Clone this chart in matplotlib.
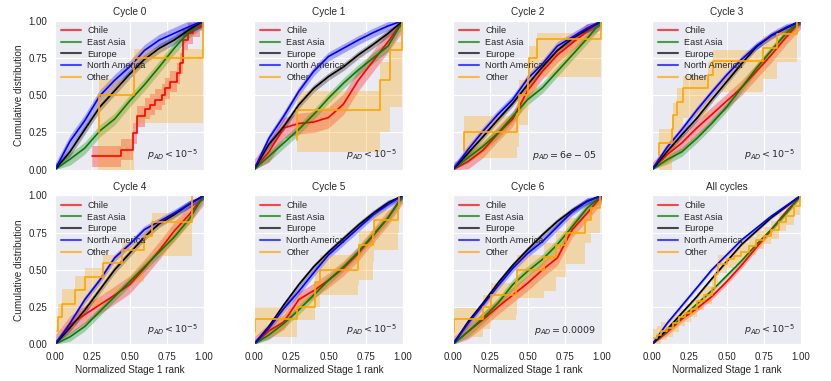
import matplotlib
matplotlib.use('Agg')
import matplotlib.pyplot as plt
from matplotlib.lines import Line2D
import seaborn as sns
import numpy as np

sns.set_style('darkgrid')
plt.rcParams['font.family'] = ['Liberation Sans', 'DejaVu Sans']

titles = ['Cycle 0', 'Cycle 1', 'Cycle 2', 'Cycle 3',
          'Cycle 4', 'Cycle 5', 'Cycle 6', 'All cycles']
p_labels = [r'$p_{AD} < 10^{-5}$', r'$p_{AD} < 10^{-5}$', r'$p_{AD} = 6e-05$',
            r'$p_{AD} < 10^{-5}$', r'$p_{AD} < 10^{-5}$', r'$p_{AD} < 10^{-5}$',
            r'$p_{AD} = 0.0009$', r'$p_{AD} < 10^{-5}$']
regions = ['Chile', 'East Asia', 'Europe', 'North America', 'Other']
colors = ['red', 'green', 'black', 'blue', 'orange']

# big groups: cumulative share read at these ranks, one row per panel
grid = [0.0, 0.1, 0.2, 0.3, 0.4, 0.5, 0.6, 0.7, 0.8, 0.9, 1.0]

chile = [
    None,  # cycle 0 has few points, see chile_c0_x / chile_c0_y
    [0, 0.12, 0.28, 0.31, 0.32, 0.35, 0.44, 0.60, 0.73, 0.86, 1.0],
    [0, 0.055, 0.13, 0.24, 0.34, 0.53, 0.66, 0.77, 0.85, 0.93, 1.0],
    [0, 0.10, 0.18, 0.28, 0.37, 0.46, 0.55, 0.66, 0.77, 0.89, 1.0],
    [0, 0.13, 0.20, 0.265, 0.33, 0.40, 0.51, 0.63, 0.76, 0.87, 1.0],
    [0, 0.09, 0.15, 0.30, 0.36, 0.43, 0.51, 0.61, 0.73, 0.85, 1.0],
    [0, 0.085, 0.165, 0.25, 0.33, 0.41, 0.50, 0.58, 0.77, 0.88, 1.0],
    [0, 0.08, 0.17, 0.24, 0.32, 0.42, 0.53, 0.65, 0.77, 0.89, 1.0],
]
chile_c0_x = [0.25, 0.44, 0.525, 0.552, 0.603, 0.638, 0.671, 0.716,
              0.739, 0.772, 0.817, 0.839, 0.861, 0.895, 0.929, 0.973]
chile_c0_y = [0.09, 0.135, 0.245, 0.357, 0.41, 0.435, 0.469, 0.502,
              0.547, 0.59, 0.647, 0.714, 0.87, 0.915, 0.96, 1.0]

east_asia = [
    [0, 0.07, 0.145, 0.26, 0.34, 0.46, 0.57, 0.69, 0.815, 0.925, 1.0],
    [0, 0.09, 0.18, 0.27, 0.37, 0.48, 0.58, 0.67, 0.75, 0.83, 1.0],
    [0, 0.08, 0.156, 0.245, 0.357, 0.47, 0.55, 0.66, 0.77, 0.88, 1.0],
    [0, 0.067, 0.12, 0.21, 0.31, 0.42, 0.55, 0.68, 0.80, 0.915, 1.0],
    [0, 0.05, 0.12, 0.22, 0.32, 0.42, 0.52, 0.62, 0.72, 0.84, 1.0],
    [0, 0.063, 0.14, 0.23, 0.33, 0.43, 0.52, 0.62, 0.735, 0.85, 1.0],
    [0, 0.085, 0.175, 0.275, 0.40, 0.49, 0.57, 0.67, 0.79, 0.915, 1.0],
    [0, 0.09, 0.18, 0.27, 0.36, 0.46, 0.56, 0.67, 0.77, 0.88, 1.0],
]
europe = [
    [0, 0.12, 0.27, 0.42, 0.53, 0.64, 0.74, 0.815, 0.87, 0.94, 1.0],
    [0, 0.17, 0.29, 0.435, 0.545, 0.625, 0.69, 0.77, 0.84, 0.915, 1.0],
    [0, 0.11, 0.22, 0.335, 0.445, 0.57, 0.69, 0.80, 0.88, 0.94, 1.0],
    [0, 0.12, 0.235, 0.345, 0.47, 0.59, 0.71, 0.825, 0.90, 0.95, 1.0],
    [0, 0.11, 0.23, 0.365, 0.50, 0.61, 0.72, 0.81, 0.87, 0.94, 1.0],
    [0, 0.12, 0.265, 0.40, 0.52, 0.62, 0.71, 0.80, 0.88, 0.95, 1.0],
    [0, 0.15, 0.275, 0.41, 0.53, 0.635, 0.735, 0.825, 0.90, 0.96, 1.0],
    [0, 0.10, 0.21, 0.32, 0.44, 0.555, 0.67, 0.76, 0.85, 0.925, 1.0],
]
north_america = [
    [0, 0.19, 0.33, 0.495, 0.60, 0.69, 0.80, 0.87, 0.915, 0.96, 1.0],
    [0, 0.21, 0.36, 0.525, 0.66, 0.76, 0.815, 0.87, 0.92, 0.965, 1.0],
    [0, 0.134, 0.257, 0.37, 0.47, 0.61, 0.71, 0.83, 0.89, 0.95, 1.0],
    [0, 0.15, 0.27, 0.40, 0.52, 0.635, 0.74, 0.83, 0.90, 0.955, 1.0],
    [0, 0.14, 0.30, 0.43, 0.58, 0.67, 0.77, 0.825, 0.88, 0.94, 1.0],
    [0, 0.11, 0.24, 0.355, 0.48, 0.60, 0.69, 0.78, 0.87, 0.94, 1.0],
    [0, 0.14, 0.265, 0.39, 0.51, 0.61, 0.69, 0.79, 0.89, 0.96, 1.0],
    [0, 0.14, 0.26, 0.38, 0.50, 0.60, 0.70, 0.78, 0.86, 0.93, 1.0],
]

# half width of the confidence band, per panel
chile_w = [0.07, 0.07, 0.05, 0.05, 0.06, 0.05, 0.05, 0.02]
east_asia_w = [0.04, 0.035, 0.035, 0.03, 0.03, 0.03, 0.035, 0.012]
europe_w = [0.03, 0.025, 0.02, 0.02, 0.025, 0.02, 0.02, 0.008]
north_america_w = [0.04, 0.03, 0.03, 0.025, 0.025, 0.025, 0.025, 0.01]

# "Other": jump positions, level after each jump and band limits
other_x = [
    [0.29, 0.295, 0.53, 0.995],
    [0.286, 0.29, 0.846, 0.915, 0.99],
    [0.07, 0.072, 0.43, 0.44, 0.505, 0.51, 0.565, 0.995],
    [0.045, 0.047, 0.135, 0.137, 0.164, 0.209, 0.377, 0.41, 0.747, 0.836, 0.97],
    [0.016, 0.018, 0.05, 0.134, 0.2, 0.32, 0.45, 0.6, 0.65, 0.917, 0.92],
    [0.003, 0.005, 0.29, 0.407, 0.41, 0.44, 0.70, 0.702, 0.80, 0.802, 0.966, 0.97],
    [0.003, 0.005, 0.2, 0.257, 0.425, 0.427, 0.61, 0.69, 0.76, 0.884, 0.928, 0.984],
    [0.0, 0.03, 0.06, 0.1, 0.14, 0.18, 0.22, 0.26, 0.3, 0.35, 0.4, 0.42,
     0.44, 0.5, 0.55, 0.6, 0.65, 0.7, 0.75, 0.8, 0.85, 0.9, 0.95, 0.99],
]
other_y = [
    [0.25, 0.5, 0.75, 1.0],
    [0.2, 0.4, 0.6, 0.8, 1.0],
    [0.125, 0.25, 0.375, 0.5, 0.625, 0.75, 0.875, 1.0],
    [0.091, 0.182, 0.273, 0.364, 0.455, 0.545, 0.636, 0.727, 0.818, 0.909, 1.0],
    [0.091, 0.182, 0.273, 0.364, 0.455, 0.545, 0.636, 0.727, 0.818, 0.909, 1.0],
    [0.083, 0.167, 0.25, 0.333, 0.417, 0.5, 0.583, 0.667, 0.75, 0.833, 0.917, 1.0],
    [0.083, 0.167, 0.25, 0.333, 0.417, 0.5, 0.583, 0.667, 0.75, 0.833, 0.917, 1.0],
    [0.04, 0.06, 0.09, 0.11, 0.14, 0.18, 0.21, 0.24, 0.29, 0.33, 0.38, 0.47,
     0.54, 0.57, 0.59, 0.62, 0.66, 0.70, 0.73, 0.77, 0.82, 0.86, 0.93, 1.0],
]
other_lo = [
    [0.0, 0.0, 0.31, 1.0],
    [0.0, 0.12, 0.25, 0.42, 1.0],
    [0.0, 0.08, 0.15, 0.3, 0.4, 0.5, 0.62, 1.0],
    [0.0, 0.0, 0.07, 0.16, 0.25, 0.35, 0.44, 0.52, 0.61, 0.72, 1.0],
    [0.0, 0.05, 0.11, 0.16, 0.25, 0.34, 0.42, 0.52, 0.59, 0.7, 1.0],
    [0.0, 0.05, 0.16, 0.2, 0.25, 0.33, 0.4, 0.43, 0.55, 0.63, 0.75, 1.0],
    [0.0, 0.05, 0.1, 0.16, 0.2, 0.31, 0.36, 0.45, 0.54, 0.68, 0.75, 1.0],
    [0.0, 0.0, 0.03, 0.05, 0.08, 0.12, 0.15, 0.18, 0.23, 0.27, 0.32, 0.41,
     0.48, 0.51, 0.53, 0.56, 0.60, 0.64, 0.67, 0.71, 0.76, 0.80, 0.87, 1.0],
]
other_hi = [
    [0.45, 0.61, 0.81, 1.0],
    [0.4, 0.53, 0.72, 0.86, 1.0],
    [0.25, 0.36, 0.45, 0.6, 0.7, 0.83, 0.915, 1.0],
    [0.18, 0.27, 0.36, 0.45, 0.55, 0.63, 0.72, 0.80, 0.9, 0.95, 1.0],
    [0.16, 0.27, 0.37, 0.46, 0.51, 0.6, 0.69, 0.78, 0.88, 0.96, 1.0],
    [0.2, 0.25, 0.33, 0.45, 0.5, 0.6, 0.68, 0.76, 0.85, 0.9, 0.97, 1.0],
    [0.2, 0.245, 0.33, 0.41, 0.5, 0.6, 0.68, 0.76, 0.85, 0.915, 0.95, 1.0],
    [0.1, 0.12, 0.15, 0.17, 0.2, 0.24, 0.27, 0.30, 0.35, 0.39, 0.44, 0.53,
     0.6, 0.63, 0.65, 0.68, 0.72, 0.76, 0.79, 0.83, 0.88, 0.92, 0.99, 1.0],
]


def draw_curve(ax, y, w, color):
    y = np.array(y)
    ax.fill_between(grid, np.clip(y - w, 0, 1), np.clip(y + w, 0, 1),
                    color=color, alpha=0.3, linewidth=0)
    ax.plot(grid, y, color=color, lw=1.2)


def draw_steps(ax, xs, ys, lo, hi, color):
    xs = list(xs) + [1.0]
    ys = list(ys) + [ys[-1]]
    lo = list(lo) + [lo[-1]]
    hi = list(hi) + [hi[-1]]
    ax.fill_between(xs, lo, hi, step='post', color=color, alpha=0.3, linewidth=0)
    ax.plot(xs, ys, drawstyle='steps-post', color=color, lw=1.2)


fig, axes = plt.subplots(2, 4, figsize=(8.31, 3.81), dpi=100)
fig.subplots_adjust(left=0.0662, right=0.964, top=0.9457, bottom=0.0963,
                    wspace=0.336, hspace=0.172)
ticks = [0, 0.25, 0.5, 0.75, 1.0]

for i, ax in enumerate(axes.flat):
    if chile[i] is None:
        y = np.array(chile_c0_y)
        draw_steps(ax, chile_c0_x, chile_c0_y, np.clip(y - chile_w[i], 0, 1),
                   np.clip(y + chile_w[i], 0, 1), colors[0])
    else:
        draw_curve(ax, chile[i], chile_w[i], colors[0])
    draw_curve(ax, east_asia[i], east_asia_w[i], colors[1])
    draw_curve(ax, europe[i], europe_w[i], colors[2])
    draw_curve(ax, north_america[i], north_america_w[i], colors[3])
    draw_steps(ax, other_x[i], other_y[i], other_lo[i], other_hi[i], colors[4])

    ax.set_xlim(0, 1)
    ax.set_ylim(0, 1)
    ax.set_xticks(ticks)
    ax.set_yticks(ticks)
    ax.tick_params(labelsize=7, pad=2)
    ax.set_title(titles[i], fontsize=7.2, pad=4)
    if i % 4 == 0:
        ax.set_ylabel('Cumulative distribution', fontsize=7.2, labelpad=3)
    else:
        ax.set_yticklabels([])
    if i < 4:
        ax.set_xticklabels([])
    else:
        ax.set_xlabel('Normalized Stage 1 rank', fontsize=7.2, labelpad=2)

    handles = [Line2D([], [], color=c, lw=1.5, alpha=0.7) for c in colors]
    ax.legend(handles, regions, loc='upper left', fontsize=6.6, frameon=False,
              borderaxespad=0.2, labelspacing=0.3, handlelength=2.2,
              handletextpad=0.7)
    ax.text(0.96, 0.05, p_labels[i], transform=ax.transAxes, ha='right',
            va='bottom', fontsize=6.8)

fig.savefig('out.png', dpi=100)
